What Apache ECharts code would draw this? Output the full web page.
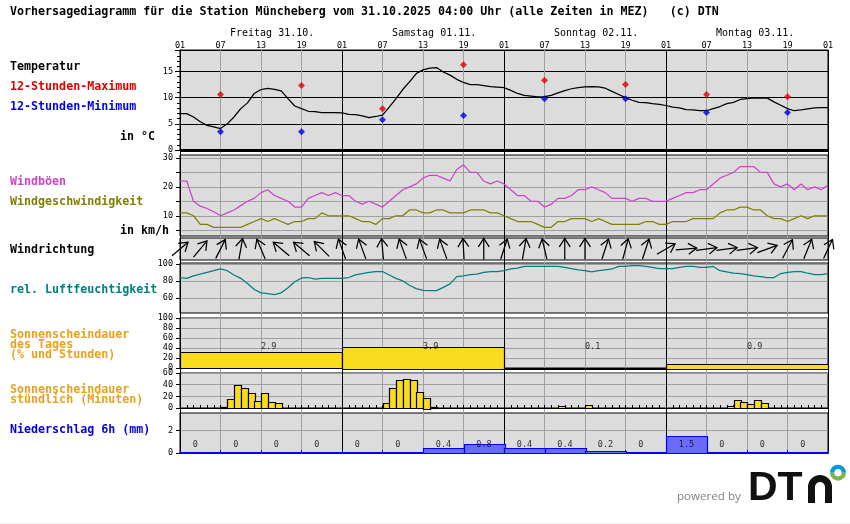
<!DOCTYPE html>
<html><head><meta charset="utf-8">
<style>html,body{margin:0;padding:0;background:#fff}#c{width:850px;height:524px}</style>
<script src="https://cdn.jsdelivr.net/npm/echarts@6/dist/echarts.min.js"></script>
</head><body><div id="c"></div>
<script>
// ---- data (index = hours after Friday 01:00) ----
const titleText = 'Vorhersagediagramm für die Station Müncheberg vom 31.10.2025 04:00 Uhr (alle Zeiten in MEZ)   (c) DTN';
const dayLabels = ['Freitag 31.10.','Samstag 01.11.','Sonntag 02.11.','Montag 03.11.'];
const hourLabels = ['01','07','13','19'];
const temperature = [6.95,6.95,6.3,5.4,4.7,4.4,4.1,5.0,6.3,7.9,9.0,10.8,11.55,11.75,11.6,11.3,9.8,8.4,7.9,7.4,7.35,7.15,7.15,7.15,7.1,6.8,6.75,6.5,6.2,6.4,6.65,8.2,9.8,11.55,13,14.6,15.3,15.65,15.75,14.9,14.3,13.5,12.9,12.5,12.5,12.3,12.1,12.0,11.9,11.4,10.8,10.45,10.3,10.15,10.2,10.45,10.9,11.35,11.7,11.9,12.05,12.1,12.05,11.8,11.2,10.6,10,9.5,9.1,9.05,8.85,8.7,8.5,8.2,8.05,7.7,7.65,7.5,7.5,7.9,8.3,8.85,9.1,9.65,9.8,9.9,9.9,9.9,9.2,8.55,7.9,7.5,7.65,7.85,8.05,8.1,8.1];
const extremeHours = [6,18,30,42,54,66,78,90];
const tempMax = [10.6,12.3,7.9,16.3,13.3,12.5,10.6,10.15];
const tempMin = [3.5,3.5,5.8,6.6,9.8,9.8,7.15,7.15];
const gusts = [22,22,15,13.3,12.5,11.4,10,11,12,13.5,15,16,18,19,17,16,15,13,13,16,17,18,17,18,17,17,15,14,15,14,13,15,17,19,20,21,23,24,24,23,22,26,27.6,25,25,22,21,22,21,19,17,17,15,15,13,14,16,16,17,19,19,20,19,18,16,16,16,15,16,16,15,15,15,16,17,18,18,19,19,21,23,24,25,27,27,27,25,25,21,20,21,19,21,19,20,19,20.6];
const windSpeed = [11,11,10,7,7,6,6,6,6,6,7,8,9,8,9,8,7,8,8,9,9,11,10,10,10,10,9,8,8,7,9,9,10,10,12,12,11,11,12,12,11,11,11,12,12,12,11,11,10,9,8,8,8,7,6,6,8,8,9,9,9,8,9,8,7,7,7,7,7,8,8,7,7,8,8,8,9,9,9,9,11,12,12,13,13,12,12,10,9,9,8,9,10,9,10,10,10];
const windDirHours = [0,3,6,9,12,15,18,21,24,27,30,33,36,39,42,45,48,51,54,57,60,63,66,69,72,75,78,81,84,87,90,93,96];
const windDirTo = [50,40,27,10,-23,-50,-50,-45,-20,-20,-5,-20,-20,-20,-3,0,18,10,-13,0,0,18,15,18,60,85,82,82,82,70,28,22,25];
const humidity = [84,83,86,88,90,92,94,92,87,83,77,70,66,65,64,66,72,79,83.5,84,82,83,83,83,83,84,87,88.6,90,91,91,87,83,80,75,71,69,68.5,68.6,72.5,76.5,85,86,87.5,88,90,91,91,92,94,95,97,97,97,97,97,97,96,94.5,93,92,90.5,92,93,94,97,97,98,98,97,96,94.5,94.5,94.5,96,97,97,96,96,97,92,90.5,89,88.6,87.5,86,85,84,84,88.6,90,91,91,89,87.5,87.5,88.6];
const dayStartHours = [0,24,48,72];
const sunDayPercent = [32,43,1,9];
const sunDayHours = ['2.9','3.9','0.1','0.9'];
const sunMinutes = [0,0,0,0,0,0,1,15,40,35,26,12,26,10,8,0,0,0,0,0,0,0,0,0,0,0,0,0,0,0,8,35,48,50,48,27,18,1,0,0,0,0,0,0,0,0,0,0,0,0,0,0,0,0,0,0,3,0,0,0,5,0,0,0,0,0,0,0,0,0,0,0,0,0,0,0,0,0,0,0,0,3,14,10,7,14,9,0,0,0,0,0,0,0,0,0];
const precipStartHours = [0,6,12,18,24,30,36,42,48,54,60,66,72,78,84,90];
const precip = [0,0,0,0,0,0,0.4,0.8,0.4,0.4,0.2,0,1.5,0,0,0];

// ---- style ----
const MONO = '"DejaVu Sans Mono","Liberation Mono",monospace';
const PANEL = '#dcdcdc', GRIDGRAY = '#a0a0a0', SUN = '#fadc1e';
const tick8 = {fontFamily: MONO, fontSize: 8.5, color: '#000'};

const L = 180, W = 648;
const panels = [ // top, height
  [50,100],[155,81],[238,22],[263,50],[318,50],[373,35],[413,40]
];
const grid = panels.map(p => ({show:true,left:L,width:W,top:p[0],height:p[1],
  backgroundColor:PANEL,borderColor:'#000',borderWidth:1}));
grid.push({left:L,width:W,top:50,height:401,show:false}); // full-height hour lines

const xAxis = panels.map((p,i) => ({type:'value',gridIndex:i,min:0,max:96,interval:i===5?1:6,
  axisLabel:{show:false},splitLine:{show:false},
  axisLine:{show:i>=5,onZero:false,lineStyle:{color:i===6?'#0000ff':'#000',width:i===6?2:1}},
  axisTick:{show:i>=5,inside:true,length:3,lineStyle:{color:i===6?'#0000ff':'#000'}}}));
xAxis.push({type:'value',gridIndex:7,position:'top',min:0,max:96,interval:6,
  axisLine:{show:false},axisTick:{show:false},
  axisLabel:{show:true,margin:0,showMinLabel:true,showMaxLabel:true,...tick8,
    formatter:v=>hourLabels[(v/6)%4]},
  splitLine:{show:true,showMinLine:true,showMaxLine:true,
    lineStyle:{color:['#000',GRIDGRAY,GRIDGRAY,GRIDGRAY],width:1}}});

function yAx(i,min,max,vals,line,extra){
  return Object.assign({type:'value',gridIndex:i,min,max,
    axisLine:{show:true,lineStyle:{color:'#000'}},
    axisTick:{show:true,length:4,lineStyle:{color:'#000'},customValues:vals},
    axisLabel:{show:true,margin:7,...tick8,customValues:vals,
      formatter:v=>(line.labels.indexOf(v)>=0?String(v):'')},
    splitLine:{show:true,lineStyle:{color:line.color,width:1}}},extra||{});
}
const yAxis = [
  {type:'value',gridIndex:0,min:0,max:19.1,interval:5,
    axisLine:{show:true,lineStyle:{color:'#000'}},
    axisTick:{show:true,length:5,lineStyle:{color:'#000'}},
    minorTick:{show:true,splitNumber:5,length:3,lineStyle:{color:'#000'}},
    axisLabel:{show:true,margin:7,...tick8,formatter:v=>(v%5===0?String(v):'')},
    splitLine:{show:true,lineStyle:{color:'#000',width:1}}},
  yAx(1,3,31,[5,10,15,20,25,30],{labels:[10,20,30],color:GRIDGRAY}),
  {type:'value',gridIndex:2,min:0,max:1,show:false},
  yAx(3,42.4,101,[60,80,100],{labels:[60,80,100],color:GRIDGRAY}),
  yAx(4,0,100,[0,20,40,60,80,100],{labels:[0,20,40,60,80,100],color:GRIDGRAY}),
  yAx(5,0,60,[0,20,40,60],{labels:[0,20,40,60],color:GRIDGRAY}),
  yAx(6,0,3.54,[0,2],{labels:[0,2],color:GRIDGRAY}),
  {type:'value',gridIndex:7,min:0,max:1,show:false}
];

const hours = a => a.map((v,i)=>[i,v]);
function lineS(i,data,color){return {type:'line',xAxisIndex:i,yAxisIndex:i,data:hours(data),showSymbol:false,
  silent:true,animation:false,lineStyle:{color,width:1.25},itemStyle:{color},z:5};}
function rectS(i,rows,fill,stroke){ // rows: [x0,x1,value]
  return {type:'custom',xAxisIndex:i,yAxisIndex:i,data:rows,silent:true,animation:false,z:4,clip:false,
    encode:{x:[0,1],y:2},
    renderItem:(p,api)=>{const a=api.coord([api.value(0),api.value(2)]),b=api.coord([api.value(1),0]);
      return {type:'rect',shape:{x:Math.round(a[0])+.5,y:Math.round(a[1])+.5,width:Math.round(b[0]-a[0]),height:Math.max(Math.round(b[1]-a[1]),0)},
        style:{fill,stroke,lineWidth:1.2}};}};
}
function labelS(i,rows){return {type:'scatter',xAxisIndex:i,yAxisIndex:i,data:rows,symbolSize:0,silent:true,animation:false,z:8,
  label:{show:true,position:'right',distance:0,...tick8,formatter:p=>p.value[2]}};}

const series = [
  lineS(0,temperature,'#000'),
  {type:'scatter',xAxisIndex:0,yAxisIndex:0,symbol:'diamond',symbolSize:7,silent:true,animation:false,z:6,itemStyle:{color:'#e00000'},data:extremeHours.map((h,i)=>[h,tempMax[i]])},
  {type:'scatter',xAxisIndex:0,yAxisIndex:0,symbol:'diamond',symbolSize:7,silent:true,animation:false,z:6,itemStyle:{color:'#0000e0'},data:extremeHours.map((h,i)=>[h,tempMin[i]])},
  lineS(1,gusts,'#cc44cc'),
  lineS(1,windSpeed,'#808000'),
  {type:'custom',xAxisIndex:2,yAxisIndex:2,silent:true,animation:false,z:6,clip:false,
    data:windDirHours.map((h,i)=>[h,0.5,windDirTo[i]]),
    renderItem:(p,api)=>{
      const c=api.coord([api.value(0),api.value(1)]),a=api.value(2)*Math.PI/180;
      const ux=Math.sin(a),uy=-Math.cos(a),half=10.5,bar=10,sp=33*Math.PI/180;
      const tip=[c[0]+ux*half,c[1]+uy*half],tail=[c[0]-ux*half,c[1]-uy*half];
      const barb=s=>{const b=a+s*sp;return [tip[0]-Math.sin(b)*bar,tip[1]+Math.cos(b)*bar];};
      const st={stroke:'#000',lineWidth:1.25,fill:null};
      return {type:'group',children:[
        {type:'polyline',shape:{points:[tail,tip]},style:st},
        {type:'polyline',shape:{points:[barb(1),tip,barb(-1)]},style:st}]};
    }},
  lineS(3,humidity,'#008080'),
  rectS(4,dayStartHours.map((h,i)=>[h,h+24,sunDayPercent[i]]),SUN,'#000'),
  labelS(4,dayStartHours.map((h,i)=>[h+12,42.6,sunDayHours[i]])),
  rectS(5,sunMinutes.map((v,i)=>[i,i+1,v]).filter(r=>r[2]>0),SUN,'#000'),
  rectS(6,precipStartHours.map((h,i)=>[h,h+6,precip[i]]).filter(r=>r[2]>0),'#6a6aff','#0000ff'),
  labelS(6,precipStartHours.map((h,i)=>[h+1.9,0.73,String(precip[i])]))
];

function txt(text,x,y,color,font,align){
  return {type:'text',z:20,silent:true,style:{text,x,y,fill:color||'#000',
    font:font||('bold 11.67px '+MONO),textAlign:align||'left',textVerticalAlign:'middle'}};
}
const dayFont = '10px '+MONO, ORANGE='#e8a020';
const logoStroke = {fill:null,stroke:'#111',lineWidth:7};
const graphic = [
  txt(titleText,10,12),
  txt(dayLabels[0],230,33,'#000',dayFont),
  txt(dayLabels[1],392,33,'#000',dayFont),
  txt(dayLabels[2],554,33,'#000',dayFont),
  txt(dayLabels[3],716,33,'#000',dayFont),
  txt('Temperatur',10,67),
  txt('12-Stunden-Maximum',10,87,'#e00000'),
  txt('12-Stunden-Minimum',10,107,'#0000e0'),
  txt('in °C',120,137),
  txt('Windböen',10,182,'#cc44cc'),
  txt('Windgeschwindigkeit',10,202,'#808000'),
  txt('in km/h',120,231),
  txt('Windrichtung',10,250),
  txt('rel. Luftfeuchtigkeit',10,290,'#008080'),
  txt('Sonnenscheindauer',10,335,ORANGE),
  txt('des Tages',10,345,ORANGE),
  txt('(% und Stunden)',10,355,ORANGE),
  txt('Sonnenscheindauer',10,390,ORANGE),
  txt('stündlich (Minuten)',10,400,ORANGE),
  txt('Niederschlag 6h (mm)',10,430,'#0000e0'),
  txt('powered by',677,497,'#808080','11.6px "Open Sans",sans-serif'),
  {type:'text',z:20,silent:true,style:{text:'DT',x:748,y:488.5,fill:'#111',font:'bold 41px "Liberation Sans",sans-serif',textVerticalAlign:'middle'}},
  {type:'line',z:20,silent:true,shape:{x1:811.5,y1:503,x2:811.5,y2:487},style:logoStroke},
  {type:'line',z:20,silent:true,shape:{x1:828.5,y1:503,x2:828.5,y2:487},style:logoStroke},
  {type:'arc',z:20,silent:true,shape:{cx:820,cy:487,r:8.5,startAngle:Math.PI,endAngle:2*Math.PI},style:logoStroke},
  {type:'arc',z:20,silent:true,shape:{cx:838,cy:472.7,r:5.8,startAngle:Math.PI,endAngle:2*Math.PI},style:{fill:null,stroke:'#0a9ad6',lineWidth:4.4}},
  {type:'arc',z:20,silent:true,shape:{cx:838,cy:472.7,r:5.8,startAngle:0,endAngle:Math.PI},style:{fill:null,stroke:'#7ab648',lineWidth:4.4}},
  {type:'rect',z:20,silent:true,shape:{x:0,y:523,width:850,height:1},style:{fill:'#eeeeee'}},
  {type:'rect',z:20,silent:true,shape:{x:L,y:149,width:W,height:3},style:{fill:'#000'}}
];

const chart = echarts.init(document.getElementById('c'),null,{renderer:'canvas'});
chart.setOption({animation:false,backgroundColor:'#fff',tooltip:{show:false},legend:{show:false},
  grid,xAxis,yAxis,series,graphic});
</script></body></html>
